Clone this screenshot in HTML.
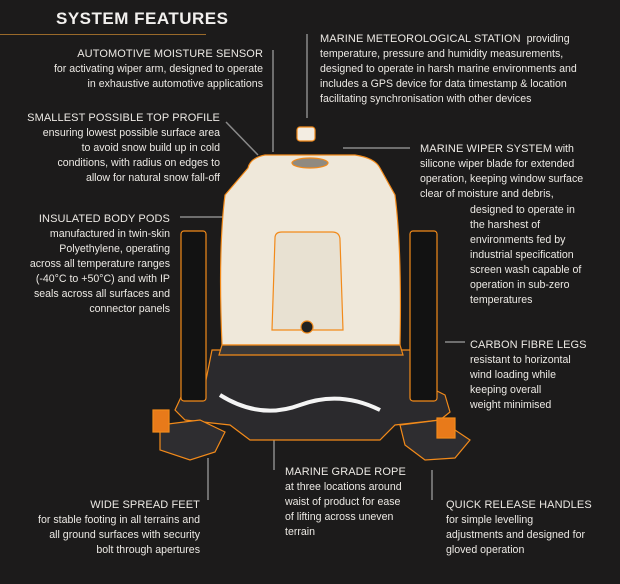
<!DOCTYPE html>
<html><head><style>
body{margin:0;width:620px;height:584px;background:#1c1b1b;overflow:hidden;position:relative;font-family:"Liberation Sans",sans-serif;color:#ece9e4}
.t{position:absolute;font-size:10.6px;line-height:15px;white-space:nowrap}
.r{text-align:right}
.t b{font-weight:normal;font-size:11px;letter-spacing:0.1px}
h1{position:absolute;left:56px;top:9px;margin:0;font-size:17px;font-weight:bold;letter-spacing:0.5px;color:#f2f0ee}
svg{position:absolute;left:0;top:0}
</style></head><body>
<svg width="620" height="584">
<line x1="0" y1="34.5" x2="206" y2="34.5" stroke="#9a6a2a" stroke-width="1"/>
<g stroke="#8a8a8a" stroke-width="1.5" fill="none">
<line x1="273" y1="50" x2="273" y2="152"/>
<line x1="226" y1="122" x2="258" y2="155"/>
<line x1="307" y1="34" x2="307" y2="118"/>
<line x1="343" y1="148" x2="410" y2="148"/>
<line x1="180" y1="217" x2="226" y2="217"/>
<line x1="445" y1="342" x2="465" y2="342"/>
<line x1="274" y1="437" x2="274" y2="470"/>
<line x1="208" y1="458" x2="208" y2="500"/>
<line x1="432" y1="470" x2="432" y2="500"/>
</g>
<g stroke="#f28a1a" stroke-width="1.2">
<!-- base dark -->
<path d="M212 350 L420 350 L425 385 L445 395 L450 412 L440 420 L395 425 L380 440 L250 440 L230 425 L185 420 L175 410 L182 395 L205 385 Z" fill="#2b2a2d"/>
<!-- feet -->
<path d="M160 425 L200 420 L225 432 L215 452 L190 460 L160 450 Z" fill="#2e2d30"/>
<path d="M400 425 L440 420 L470 440 L455 458 L425 460 L405 445 Z" fill="#2e2d30"/>
<rect x="153" y="410" width="16" height="22" fill="#e87a1a"/>
<rect x="437" y="418" width="18" height="20" fill="#e87a1a"/>
<!-- legs -->
<rect x="181" y="231" width="25" height="170" rx="3" fill="#121212"/>
<rect x="410" y="231" width="27" height="170" rx="3" fill="#121212"/>
<!-- body -->
<path d="M248 168 Q250 158 265 155 L355 155 Q375 158 380 168 L395 195 Q402 250 400 345 L222 345 Q218 250 225 195 Z" fill="#efe8da"/>
<path d="M222 345 L400 345 L403 355 L219 355 Z" fill="#3a3838"/>
<path d="M275 238 Q275 232 282 232 L332 232 Q340 232 340 240 L343 330 L272 330 Z" fill="#e8e1d2"/>
<circle cx="307" cy="327" r="6" fill="#222"/>
<ellipse cx="310" cy="163" rx="18" ry="5" fill="#8f8a80"/>
<rect x="297" y="127" width="18" height="14" rx="3" fill="#f3ede2"/>
</g>
<path d="M220 395 Q260 420 300 405 Q340 390 380 410" stroke="#f4f4f4" stroke-width="4" fill="none"/>
</svg>
<h1>SYSTEM FEATURES</h1>
<div class="t r" style="right:357px;top:47px"><b>AUTOMOTIVE MOISTURE SENSOR</b><br>for activating wiper arm, designed to operate<br>in exhaustive automotive applications</div>
<div class="t r" style="right:400px;top:111px"><b>SMALLEST POSSIBLE TOP PROFILE</b><br>ensuring lowest possible surface area<br>to avoid snow build up in cold<br>conditions, with radius on edges to<br>allow for natural snow fall-off</div>
<div class="t r" style="right:450px;top:212px"><b>INSULATED BODY PODS</b><br>manufactured in twin-skin<br>Polyethylene, operating<br>across all temperature ranges<br>(-40°C to +50°C) and with IP<br>seals across all surfaces and<br>connector panels</div>
<div class="t" style="left:320px;top:32px"><b>MARINE METEOROLOGICAL STATION</b> &nbsp;providing<br>temperature, pressure and humidity measurements,<br>designed to operate in harsh marine environments and<br>includes a GPS device for data timestamp &amp; location<br>facilitating synchronisation with other devices</div>
<div class="t" style="left:420px;top:142px"><b>MARINE WIPER SYSTEM</b> with<br>silicone wiper blade for extended<br>operation, keeping window surface<br>clear of moisture and debris,</div>
<div class="t" style="left:470px;top:203px">designed to operate in<br>the harshest of<br>environments fed by<br>industrial specification<br>screen wash capable of<br>operation in sub-zero<br>temperatures</div>
<div class="t" style="left:470px;top:338px"><b>CARBON FIBRE LEGS</b><br>resistant to horizontal<br>wind loading while<br>keeping overall<br>weight minimised</div>
<div class="t" style="left:285px;top:465px"><b>MARINE GRADE ROPE</b><br>at three locations around<br>waist of product for ease<br>of lifting across uneven<br>terrain</div>
<div class="t r" style="right:420px;top:498px"><b>WIDE SPREAD FEET</b><br>for stable footing in all terrains and<br>all ground surfaces with security<br>bolt through apertures</div>
<div class="t" style="left:446px;top:498px"><b>QUICK RELEASE HANDLES</b><br>for simple levelling<br>adjustments and designed for<br>gloved operation</div>
</body></html>
